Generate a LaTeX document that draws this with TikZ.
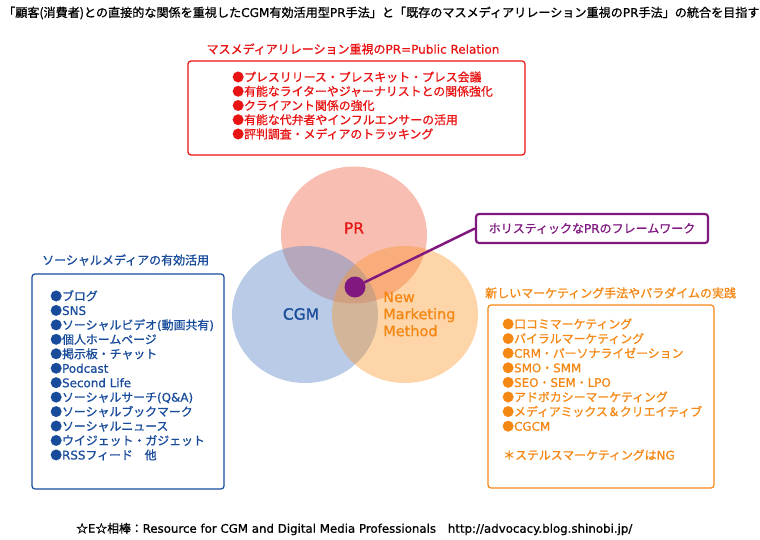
\documentclass[tikz,border=0pt]{standalone}
\usepackage{fontspec}
\setmainfont{Noto Sans CJK JP}[FakeBold=1]
\newfontfamily\enfont{DejaVu Sans}[FakeBold=0.8]
\newcommand{\en}[1]{{\enfont #1}}
\definecolor{prred}{RGB}{232,20,20}
\definecolor{cgmblue}{RGB}{25,75,155}
\definecolor{nmorange}{RGB}{245,135,20}
\definecolor{holpurple}{RGB}{128,24,128}
\definecolor{prfill}{RGB}{240,110,85}
\definecolor{cgmfill}{RGB}{100,140,200}
\definecolor{nmfill}{RGB}{250,150,40}
\newcommand{\fs}[1]{\fontsize{#1}{#1}\selectfont}

\begin{document}
\begin{tikzpicture}[x=1pt,y=-1pt,every node/.style={inner sep=0pt},
      item/.style={anchor=base west,font=\fs{11.9}},
      frame/.style={rounded corners=3pt,line width=1.2pt}]
      \useasboundingbox (0,0) rectangle (760,540);
      \node[anchor=west,font=\fs{12.1}](title) at (3,13)
        {「顧客(消費者)との直接的な関係を重視した\en{CGM}有効活用型\en{PR}手法」と「既存のマスメディアリレーション重視の\en{PR}手法」の統合を目指す};
      % PR box
      \node[text=prred,font=\fs{12}](prhead) at (353,49){マスメディアリレーション重視の\en{PR=Public Relation}};
      \draw[frame,prred](188,61) rectangle (525,155);
      \foreach \t [count=\i] in {プレスリリース・プレスキット・プレス会議,有能なライターやジャーナリストとの関係強化,
        クライアント関係の強化,有能な代弁者やインフルエンサーの活用,評判調査・メディアのトラッキング}
        \node[item,text=prred](pr\i) at (232,{81.5+14.25*(\i-1)}){●\t};
      % circles
      \fill[prfill,fill opacity=0.45](354,235) ellipse[x radius=73,y radius=68.5];
      \fill[cgmfill,fill opacity=0.45](305,314.5) ellipse[x radius=73,y radius=68.5];
      \fill[nmfill,fill opacity=0.4](405,314.5) ellipse[x radius=73,y radius=68.5];
      \node[text=prred,font=\fs{15.5}\enfont](prl) at (354,228){PR};
      \node[text=cgmblue,font=\fs{15.5}\enfont](cgml) at (301,314){CGM};
      \node[text=nmorange,font=\fontsize{14.5}{17}\selectfont\enfont,align=left,anchor=west](nml) at (383,314){New\\Marketing\\Method};
      \node[circle,fill=holpurple,minimum size=21pt](dot) at (355,287){};
      \node[draw=holpurple,line width=2.2pt,rounded corners=3pt,minimum width=232pt,minimum height=29pt,
        text=holpurple,font=\fs{12}](hol) at (592,228.5){ホリスティックな\en{PR}のフレームワーク};
      \draw[holpurple,line width=2.5pt](dot)--(hol.west);
      % CGM box
      \node[anchor=west,text=cgmblue,font=\fs{12}](cgmhead) at (42,260){ソーシャルメディアの有効活用};
      \draw[frame,cgmblue](32,274) rectangle (224,489);
      \foreach \t [count=\i] in {ブログ,\en{SNS},ソーシャルビデオ\en{(}動画共有\en{)},個人ホームページ,掲示板・チャット,\en{Podcast},\en{Second Life},
        ソーシャルサーチ\en{(Q\&A)},ソーシャルブックマーク,ソーシャルニュース,ウイジェット・ガジェット,\en{RSS}フィード　他}
        \node[item,text=cgmblue](cgm\i) at (50,{300.5+14.45*(\i-1)}){●\t};
      % new marketing box
      \node[anchor=west,text=nmorange,font=\fs{12}](nmhead) at (485,293){新しいマーケティング手法やパラダイムの実践};
      \draw[frame,nmorange](488,305) rectangle (714,488);
      \foreach \t [count=\i] in {口コミマーケティング,バイラルマーケティング,\en{CRM}・パーソナライゼーション,\en{SMO}・\en{SMM},
        \en{SEO}・\en{SEM}・\en{LPO},アドボカシーマーケティング,メディアミックス＆クリエイティブ,\en{CGCM}}
        \node[item,text=nmorange](nm\i) at (502,{328.5+14.6*(\i-1)}){●\t};
      \node[item,text=nmorange](ng) at (503,459.5){＊ステルスマーケティングは\en{NG}};
      \node[anchor=west,font=\fs{11.8}](foot) at (76,529){☆\en{E}☆相棒：\en{Resource for CGM and Digital Media Professionals\quad http://advocacy.blog.shinobi.jp/}};
    \end{tikzpicture}
\end{document}
